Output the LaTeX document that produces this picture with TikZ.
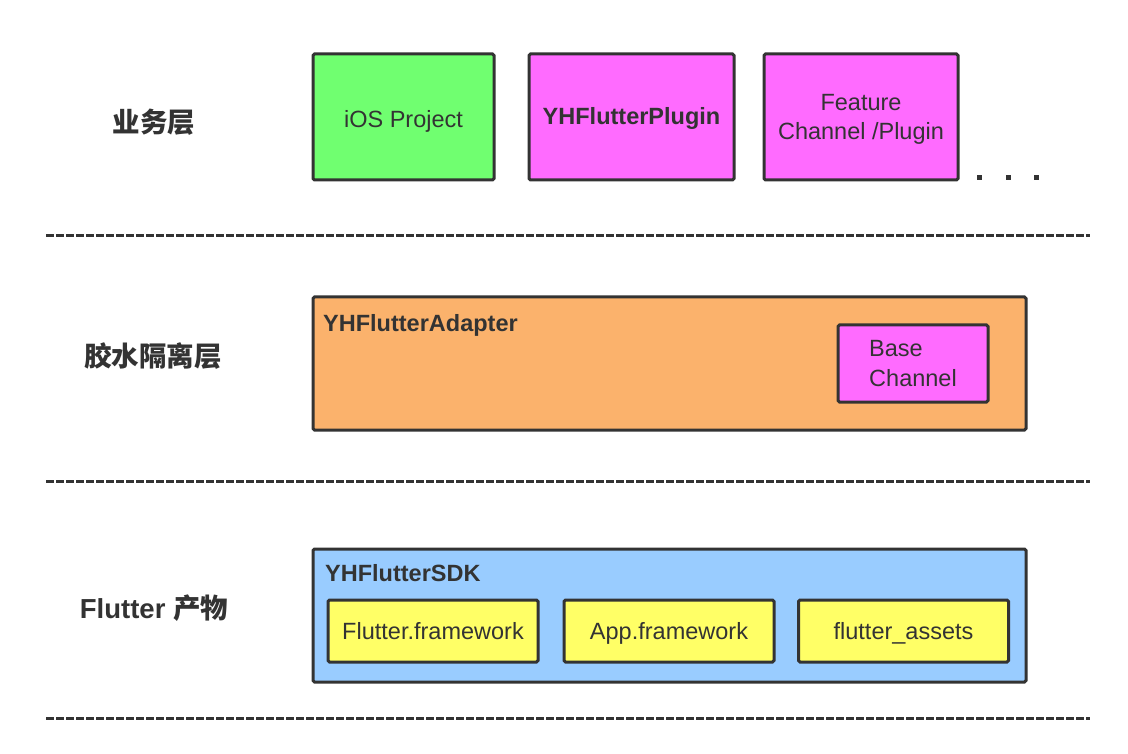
\documentclass[tikz,border=0pt]{standalone}
\usepackage{fontspec}
\setmainfont{Liberation Sans}
\newfontfamily\cjk{Noto Sans CJK SC}

\definecolor{ink}{HTML}{333333}
\definecolor{iosgreen}{HTML}{70FF70}
\definecolor{plugpink}{HTML}{FF6BFF}
\definecolor{adaptorange}{HTML}{FBB26C}
\definecolor{sdkblue}{HTML}{99CCFF}
\definecolor{artyellow}{HTML}{FFFF66}

\tikzset{
 box/.style={draw=ink, line width=3pt, rounded corners=1.5pt, text=ink, inner sep=0pt,
   font=\fontsize{23.5}{29.5}\selectfont},
 oneline/.style={text height=19pt, text depth=3pt},
 layer/.style={text=ink, font=\bfseries\fontsize{27.5}{32}\selectfont},
 sep/.style={ink, line width=3pt, dash pattern=on 8pt off 2pt},
}

\begin{document}
\begin{tikzpicture}[x=1pt, y=-1pt]
\useasboundingbox[fill=white] (0,0) rectangle (1128,754);

\foreach \y in {236,481,718}
 \draw[sep] (46,\y)--(1090,\y);

% left column
\node[layer] (biz) at (154,122) {\cjk 业务层};
\node[layer] (glue) at (153,356) {\cjk 胶水隔离层};
\node[layer] (prod) at (154,608) {Flutter {\cjk 产物}};

% business layer
\node[box, fill=iosgreen, minimum width=181, minimum height=126] (ios) at (403.5,117) {};
\node[text=ink, font=\fontsize{23.5}{29.5}\selectfont] (iostxt) at (403.5,121) {iOS Project};
\node[box, fill=plugpink, minimum width=205, minimum height=126] (plugin) at (631.5,117) {};
\node[text=ink, font=\bfseries\fontsize{23.5}{29.5}\selectfont] (plugtxt) at (631.5,118) {YHFlutterPlugin};
\node[box, fill=plugpink, minimum width=194, minimum height=126] (feature) at (861,117) {};
\node[text=ink, font=\fontsize{23.5}{29.5}\selectfont, align=center] (feattxt) at (861,119.5) {Feature\\Channel /Plugin};
\foreach \x in {979,1008,1036}
 \fill[ink] (\x-2.5,175.5) rectangle ++(5,5);

% adapter
\node[box, fill=adaptorange, minimum width=713, minimum height=133] (adapter) at (669.5,363.5) {};
\node[text=ink, font=\bfseries\fontsize{23.5}{29.5}\selectfont, anchor=base west, inner sep=0pt] (adaptlbl) at (323,331) {YHFlutterAdapter};
\node[box, fill=plugpink, minimum width=150, minimum height=77, align=left] (basech) at (913,363.5) {Base\\Channel};

% sdk
\node[box, fill=sdkblue, minimum width=713, minimum height=133] (sdk) at (669.5,615.5) {};
\node[text=ink, font=\bfseries\fontsize{23.5}{29.5}\selectfont, anchor=base west, inner sep=0pt] (sdklbl) at (325,581) {YHFlutterSDK};
\foreach \x/\t [count=\i] in {433/Flutter.framework, 669/App.framework, 903.5/flutter\_assets}
 \node[box, oneline, fill=artyellow, minimum width=210, minimum height=62] (art\i) at (\x,631) {\t};

\end{tikzpicture}
\end{document}
